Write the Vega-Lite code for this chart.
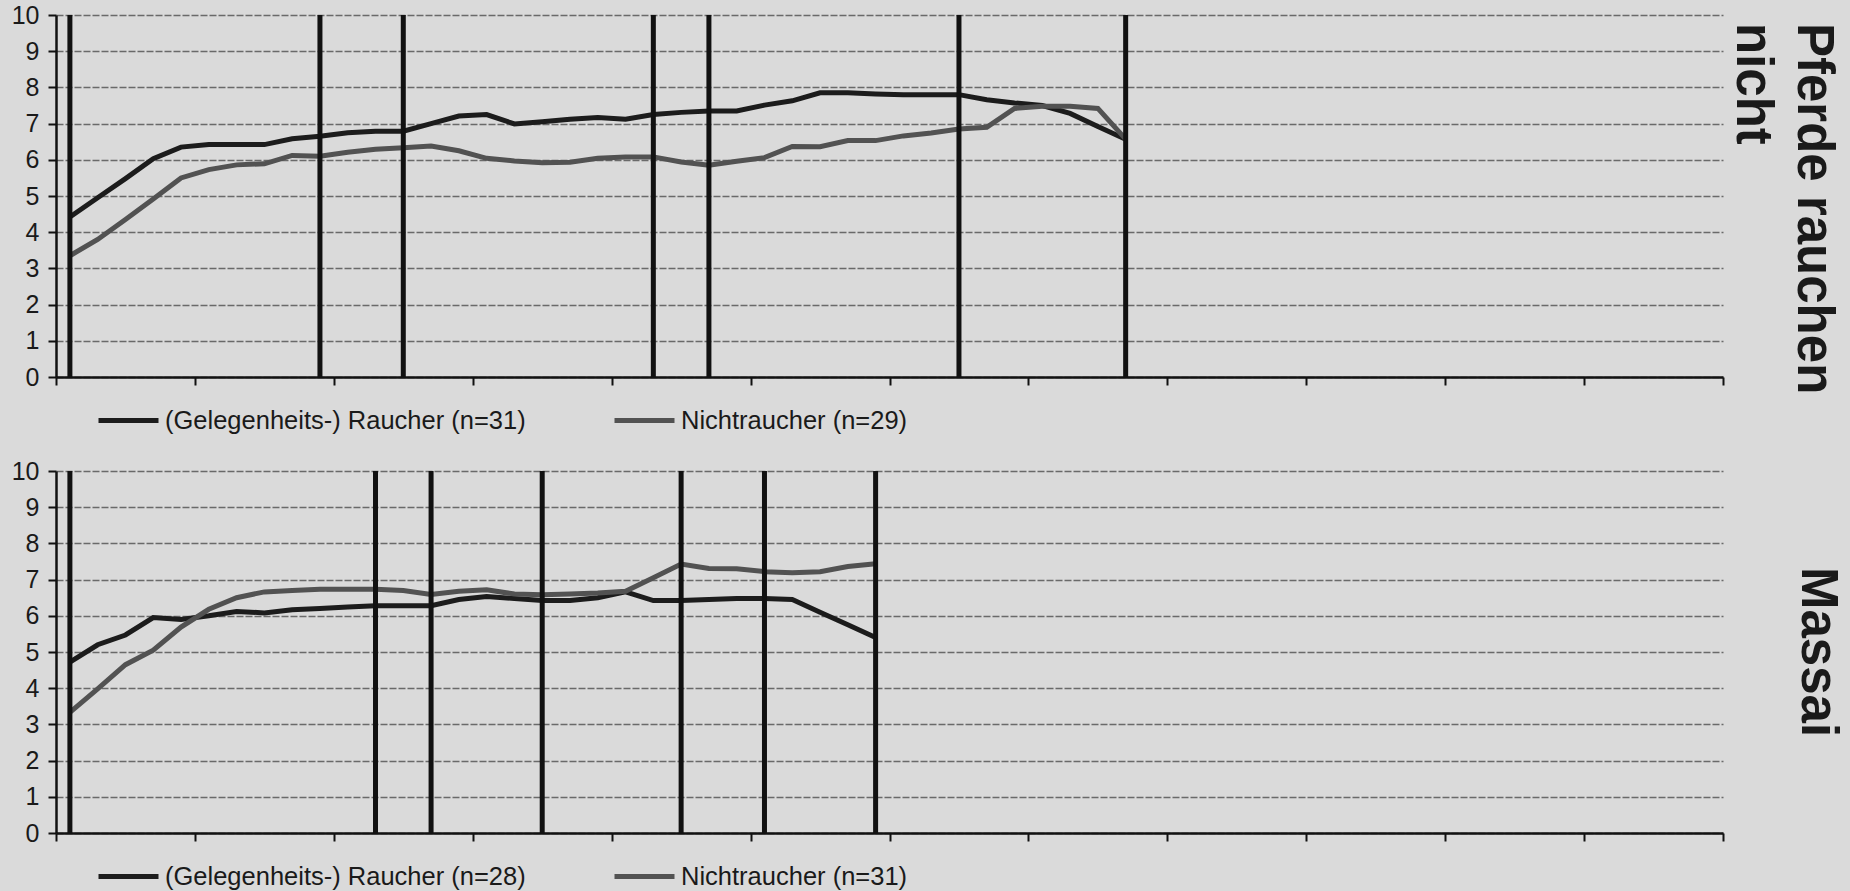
{
  "$schema": "https://vega.github.io/schema/vega-lite/v6.json",
  "autosize": {"type": "pad"},
  "padding": {"left": 11, "top": 3, "right": 14, "bottom": 8},
  "background": "#dadada",
  "bounds": "flush",
  "spacing": 94,
  "config": {
    "view": {"stroke": null},
    "font": "Liberation Sans",
    "axisX": {"labels": false, "title": null, "grid": false, "domainColor": "#111111", "domainWidth": 2.5, "tickColor": "#111111", "tickWidth": 2, "tickSize": 8},
    "axisY": {"title": null, "grid": true, "gridColor": "#6a6a6a", "gridWidth": 1.3, "gridDash": [7, 2], "labelFontSize": 25, "labelFont": "Liberation Sans", "labelColor": "#1a1a1a", "labelPadding": 9, "tickSize": 8, "tickColor": "#111111", "tickWidth": 2, "domainColor": "#111111", "domainWidth": 2.5},
    "legend": {"orient": "none", "direction": "horizontal", "legendX": 40, "legendY": 373, "title": null, "padding": 0, "labelFontSize": 25.5, "labelFont": "Liberation Sans", "labelColor": "#1a1a1a", "labelLimit": 600, "symbolType": "stroke", "symbolSize": 3600, "symbolStrokeWidth": 5, "labelOffset": 4, "columnPadding": 78}
  },
  "datasets": {
    "top_lines": [
      {"s": "(Gelegenheits-) Raucher (n=31)", "i": 0, "v": 4.42}, {"s": "(Gelegenheits-) Raucher (n=31)", "i": 1, "v": 4.95}, {"s": "(Gelegenheits-) Raucher (n=31)", "i": 2, "v": 5.48}, {"s": "(Gelegenheits-) Raucher (n=31)", "i": 3, "v": 6.03}, {"s": "(Gelegenheits-) Raucher (n=31)", "i": 4, "v": 6.35}, {"s": "(Gelegenheits-) Raucher (n=31)", "i": 5, "v": 6.42}, {"s": "(Gelegenheits-) Raucher (n=31)", "i": 6, "v": 6.42}, {"s": "(Gelegenheits-) Raucher (n=31)", "i": 7, "v": 6.42}, {"s": "(Gelegenheits-) Raucher (n=31)", "i": 8, "v": 6.58}, {"s": "(Gelegenheits-) Raucher (n=31)", "i": 9, "v": 6.65},
      {"s": "(Gelegenheits-) Raucher (n=31)", "i": 10, "v": 6.75}, {"s": "(Gelegenheits-) Raucher (n=31)", "i": 11, "v": 6.79}, {"s": "(Gelegenheits-) Raucher (n=31)", "i": 12, "v": 6.79}, {"s": "(Gelegenheits-) Raucher (n=31)", "i": 13, "v": 7.0}, {"s": "(Gelegenheits-) Raucher (n=31)", "i": 14, "v": 7.21}, {"s": "(Gelegenheits-) Raucher (n=31)", "i": 15, "v": 7.25}, {"s": "(Gelegenheits-) Raucher (n=31)", "i": 16, "v": 6.99}, {"s": "(Gelegenheits-) Raucher (n=31)", "i": 17, "v": 7.05}, {"s": "(Gelegenheits-) Raucher (n=31)", "i": 18, "v": 7.12}, {"s": "(Gelegenheits-) Raucher (n=31)", "i": 19, "v": 7.17},
      {"s": "(Gelegenheits-) Raucher (n=31)", "i": 20, "v": 7.12}, {"s": "(Gelegenheits-) Raucher (n=31)", "i": 21, "v": 7.25}, {"s": "(Gelegenheits-) Raucher (n=31)", "i": 22, "v": 7.31}, {"s": "(Gelegenheits-) Raucher (n=31)", "i": 23, "v": 7.35}, {"s": "(Gelegenheits-) Raucher (n=31)", "i": 24, "v": 7.35}, {"s": "(Gelegenheits-) Raucher (n=31)", "i": 25, "v": 7.51}, {"s": "(Gelegenheits-) Raucher (n=31)", "i": 26, "v": 7.63}, {"s": "(Gelegenheits-) Raucher (n=31)", "i": 27, "v": 7.85}, {"s": "(Gelegenheits-) Raucher (n=31)", "i": 28, "v": 7.85}, {"s": "(Gelegenheits-) Raucher (n=31)", "i": 29, "v": 7.82},
      {"s": "(Gelegenheits-) Raucher (n=31)", "i": 30, "v": 7.8}, {"s": "(Gelegenheits-) Raucher (n=31)", "i": 31, "v": 7.8}, {"s": "(Gelegenheits-) Raucher (n=31)", "i": 32, "v": 7.8}, {"s": "(Gelegenheits-) Raucher (n=31)", "i": 33, "v": 7.66}, {"s": "(Gelegenheits-) Raucher (n=31)", "i": 34, "v": 7.57}, {"s": "(Gelegenheits-) Raucher (n=31)", "i": 35, "v": 7.5}, {"s": "(Gelegenheits-) Raucher (n=31)", "i": 36, "v": 7.28}, {"s": "(Gelegenheits-) Raucher (n=31)", "i": 37, "v": 6.92}, {"s": "(Gelegenheits-) Raucher (n=31)", "i": 38, "v": 6.57},
      {"s": "Nichtraucher (n=29)", "i": 0, "v": 3.35}, {"s": "Nichtraucher (n=29)", "i": 1, "v": 3.8}, {"s": "Nichtraucher (n=29)", "i": 2, "v": 4.35}, {"s": "Nichtraucher (n=29)", "i": 3, "v": 4.92}, {"s": "Nichtraucher (n=29)", "i": 4, "v": 5.5}, {"s": "Nichtraucher (n=29)", "i": 5, "v": 5.73}, {"s": "Nichtraucher (n=29)", "i": 6, "v": 5.86}, {"s": "Nichtraucher (n=29)", "i": 7, "v": 5.89}, {"s": "Nichtraucher (n=29)", "i": 8, "v": 6.12}, {"s": "Nichtraucher (n=29)", "i": 9, "v": 6.1},
      {"s": "Nichtraucher (n=29)", "i": 10, "v": 6.21}, {"s": "Nichtraucher (n=29)", "i": 11, "v": 6.29}, {"s": "Nichtraucher (n=29)", "i": 12, "v": 6.33}, {"s": "Nichtraucher (n=29)", "i": 13, "v": 6.38}, {"s": "Nichtraucher (n=29)", "i": 14, "v": 6.25}, {"s": "Nichtraucher (n=29)", "i": 15, "v": 6.04}, {"s": "Nichtraucher (n=29)", "i": 16, "v": 5.97}, {"s": "Nichtraucher (n=29)", "i": 17, "v": 5.92}, {"s": "Nichtraucher (n=29)", "i": 18, "v": 5.93}, {"s": "Nichtraucher (n=29)", "i": 19, "v": 6.04},
      {"s": "Nichtraucher (n=29)", "i": 20, "v": 6.08}, {"s": "Nichtraucher (n=29)", "i": 21, "v": 6.08}, {"s": "Nichtraucher (n=29)", "i": 22, "v": 5.94}, {"s": "Nichtraucher (n=29)", "i": 23, "v": 5.85}, {"s": "Nichtraucher (n=29)", "i": 24, "v": 5.96}, {"s": "Nichtraucher (n=29)", "i": 25, "v": 6.06}, {"s": "Nichtraucher (n=29)", "i": 26, "v": 6.37}, {"s": "Nichtraucher (n=29)", "i": 27, "v": 6.36}, {"s": "Nichtraucher (n=29)", "i": 28, "v": 6.53}, {"s": "Nichtraucher (n=29)", "i": 29, "v": 6.53},
      {"s": "Nichtraucher (n=29)", "i": 30, "v": 6.66}, {"s": "Nichtraucher (n=29)", "i": 31, "v": 6.74}, {"s": "Nichtraucher (n=29)", "i": 32, "v": 6.85}, {"s": "Nichtraucher (n=29)", "i": 33, "v": 6.9}, {"s": "Nichtraucher (n=29)", "i": 34, "v": 7.42}, {"s": "Nichtraucher (n=29)", "i": 35, "v": 7.48}, {"s": "Nichtraucher (n=29)", "i": 36, "v": 7.48}, {"s": "Nichtraucher (n=29)", "i": 37, "v": 7.42}, {"s": "Nichtraucher (n=29)", "i": 38, "v": 6.57}
    ],
    "bot_lines": [
      {"s": "(Gelegenheits-) Raucher (n=28)", "i": 0, "v": 4.72}, {"s": "(Gelegenheits-) Raucher (n=28)", "i": 1, "v": 5.2}, {"s": "(Gelegenheits-) Raucher (n=28)", "i": 2, "v": 5.47}, {"s": "(Gelegenheits-) Raucher (n=28)", "i": 3, "v": 5.95}, {"s": "(Gelegenheits-) Raucher (n=28)", "i": 4, "v": 5.9}, {"s": "(Gelegenheits-) Raucher (n=28)", "i": 5, "v": 6.0}, {"s": "(Gelegenheits-) Raucher (n=28)", "i": 6, "v": 6.12}, {"s": "(Gelegenheits-) Raucher (n=28)", "i": 7, "v": 6.08}, {"s": "(Gelegenheits-) Raucher (n=28)", "i": 8, "v": 6.17}, {"s": "(Gelegenheits-) Raucher (n=28)", "i": 9, "v": 6.2},
      {"s": "(Gelegenheits-) Raucher (n=28)", "i": 10, "v": 6.24}, {"s": "(Gelegenheits-) Raucher (n=28)", "i": 11, "v": 6.28}, {"s": "(Gelegenheits-) Raucher (n=28)", "i": 12, "v": 6.28}, {"s": "(Gelegenheits-) Raucher (n=28)", "i": 13, "v": 6.28}, {"s": "(Gelegenheits-) Raucher (n=28)", "i": 14, "v": 6.45}, {"s": "(Gelegenheits-) Raucher (n=28)", "i": 15, "v": 6.53}, {"s": "(Gelegenheits-) Raucher (n=28)", "i": 16, "v": 6.48}, {"s": "(Gelegenheits-) Raucher (n=28)", "i": 17, "v": 6.42}, {"s": "(Gelegenheits-) Raucher (n=28)", "i": 18, "v": 6.42}, {"s": "(Gelegenheits-) Raucher (n=28)", "i": 19, "v": 6.5},
      {"s": "(Gelegenheits-) Raucher (n=28)", "i": 20, "v": 6.66}, {"s": "(Gelegenheits-) Raucher (n=28)", "i": 21, "v": 6.42}, {"s": "(Gelegenheits-) Raucher (n=28)", "i": 22, "v": 6.42}, {"s": "(Gelegenheits-) Raucher (n=28)", "i": 23, "v": 6.45}, {"s": "(Gelegenheits-) Raucher (n=28)", "i": 24, "v": 6.48}, {"s": "(Gelegenheits-) Raucher (n=28)", "i": 25, "v": 6.48}, {"s": "(Gelegenheits-) Raucher (n=28)", "i": 26, "v": 6.45}, {"s": "(Gelegenheits-) Raucher (n=28)", "i": 27, "v": 6.1}, {"s": "(Gelegenheits-) Raucher (n=28)", "i": 28, "v": 5.75}, {"s": "(Gelegenheits-) Raucher (n=28)", "i": 29, "v": 5.4},
      {"s": "Nichtraucher (n=31)", "i": 0, "v": 3.33}, {"s": "Nichtraucher (n=31)", "i": 1, "v": 3.98}, {"s": "Nichtraucher (n=31)", "i": 2, "v": 4.65}, {"s": "Nichtraucher (n=31)", "i": 3, "v": 5.05}, {"s": "Nichtraucher (n=31)", "i": 4, "v": 5.69}, {"s": "Nichtraucher (n=31)", "i": 5, "v": 6.18}, {"s": "Nichtraucher (n=31)", "i": 6, "v": 6.5}, {"s": "Nichtraucher (n=31)", "i": 7, "v": 6.66}, {"s": "Nichtraucher (n=31)", "i": 8, "v": 6.7}, {"s": "Nichtraucher (n=31)", "i": 9, "v": 6.73},
      {"s": "Nichtraucher (n=31)", "i": 10, "v": 6.73}, {"s": "Nichtraucher (n=31)", "i": 11, "v": 6.73}, {"s": "Nichtraucher (n=31)", "i": 12, "v": 6.7}, {"s": "Nichtraucher (n=31)", "i": 13, "v": 6.59}, {"s": "Nichtraucher (n=31)", "i": 14, "v": 6.68}, {"s": "Nichtraucher (n=31)", "i": 15, "v": 6.72}, {"s": "Nichtraucher (n=31)", "i": 16, "v": 6.6}, {"s": "Nichtraucher (n=31)", "i": 17, "v": 6.58}, {"s": "Nichtraucher (n=31)", "i": 18, "v": 6.6}, {"s": "Nichtraucher (n=31)", "i": 19, "v": 6.63},
      {"s": "Nichtraucher (n=31)", "i": 20, "v": 6.68}, {"s": "Nichtraucher (n=31)", "i": 21, "v": 7.05}, {"s": "Nichtraucher (n=31)", "i": 22, "v": 7.43}, {"s": "Nichtraucher (n=31)", "i": 23, "v": 7.31}, {"s": "Nichtraucher (n=31)", "i": 24, "v": 7.3}, {"s": "Nichtraucher (n=31)", "i": 25, "v": 7.22}, {"s": "Nichtraucher (n=31)", "i": 26, "v": 7.19}, {"s": "Nichtraucher (n=31)", "i": 27, "v": 7.22}, {"s": "Nichtraucher (n=31)", "i": 28, "v": 7.36}, {"s": "Nichtraucher (n=31)", "i": 29, "v": 7.44}
    ],
    "top_marks": [{"i": 0}, {"i": 9}, {"i": 12}, {"i": 21}, {"i": 23}, {"i": 32}, {"i": 38}],
    "bot_marks": [{"i": 0}, {"i": 11}, {"i": 13}, {"i": 17}, {"i": 22}, {"i": 25}, {"i": 29}]
  },
  "vconcat": [
    {
      "width": 1667,
      "height": 362,
      "title": {"text": ["Pferde rauchen", "nicht"], "orient": "right", "anchor": "start", "offset": 2, "dx": 20, "fontSize": 51, "fontWeight": "bold", "lineHeight": 61, "color": "#1a1a1a", "font": "Liberation Sans"},
      "layer": [
        {
          "data": {"name": "top_lines"},
          "mark": {"type": "line", "strokeWidth": 5},
          "encoding": {
            "x": {"field": "i", "type": "quantitative", "scale": {"domain": [-0.5, 59.5], "nice": false, "zero": false}, "axis": {"values": [-0.5, 4.5, 9.5, 14.5, 19.5, 24.5, 29.5, 34.5, 39.5, 44.5, 49.5, 54.5, 59.5]}},
            "y": {"field": "v", "type": "quantitative", "scale": {"domain": [0, 10], "nice": false}, "axis": {"values": [0, 1, 2, 3, 4, 5, 6, 7, 8, 9, 10]}},
            "color": {"field": "s", "type": "nominal", "scale": {"domain": ["(Gelegenheits-) Raucher (n=31)", "Nichtraucher (n=29)"], "range": ["#1c1c1c", "#525252"]}}
          }
        },
        {
          "data": {"name": "top_marks"},
          "mark": {"type": "rule", "strokeWidth": 5, "color": "#111111"},
          "encoding": {"x": {"field": "i", "type": "quantitative"}}
        }
      ]
    },
    {
      "width": 1667,
      "height": 362,
      "title": {"text": "Massai", "orient": "right", "anchor": "middle", "offset": 67, "fontSize": 51, "fontWeight": "bold", "color": "#1a1a1a", "font": "Liberation Sans"},
      "layer": [
        {
          "data": {"name": "bot_lines"},
          "mark": {"type": "line", "strokeWidth": 5},
          "encoding": {
            "x": {"field": "i", "type": "quantitative", "scale": {"domain": [-0.5, 59.5], "nice": false, "zero": false}, "axis": {"values": [-0.5, 4.5, 9.5, 14.5, 19.5, 24.5, 29.5, 34.5, 39.5, 44.5, 49.5, 54.5, 59.5]}},
            "y": {"field": "v", "type": "quantitative", "scale": {"domain": [0, 10], "nice": false}, "axis": {"values": [0, 1, 2, 3, 4, 5, 6, 7, 8, 9, 10]}},
            "color": {"field": "s", "type": "nominal", "scale": {"domain": ["(Gelegenheits-) Raucher (n=28)", "Nichtraucher (n=31)"], "range": ["#1c1c1c", "#525252"]}}
          }
        },
        {
          "data": {"name": "bot_marks"},
          "mark": {"type": "rule", "strokeWidth": 5, "color": "#111111"},
          "encoding": {"x": {"field": "i", "type": "quantitative"}}
        }
      ]
    }
  ],
  "resolve": {"scale": {"color": "independent", "x": "independent", "y": "independent"}, "legend": {"color": "independent"}}
}
